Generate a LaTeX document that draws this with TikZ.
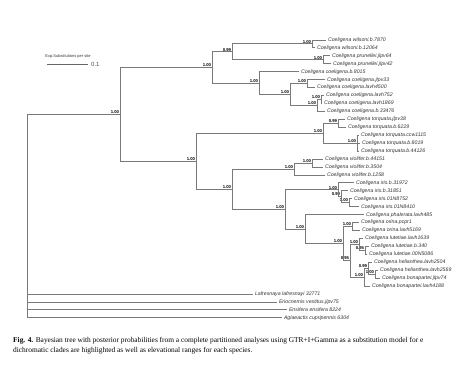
\documentclass[tikz,border=0pt]{standalone}
\usepackage{fontspec}
\setmainfont{Liberation Serif}
\newfontfamily\labfont{Liberation Sans}
\newcommand\mktip[4]{\coordinate (#1) at (#2,#3); \node[tiplab] (#1l) at ([xshift=1.8pt]#1) {#4};}
\newcommand\mkint[4]{\coordinate (#1) at (#2,#3); \node[pp] (#1p) at ([xshift=-0.8pt,yshift=0.6pt]#1) {#4};}
\begin{document}
\begin{tikzpicture}[x=1pt,y=-1pt,
  br/.style={draw=black!52, line width=0.95pt},
  tiplab/.style={anchor=west, inner sep=0pt, font=\labfont\itshape\fontsize{5.2}{6}\selectfont, text=black!80},
  pp/.style={anchor=south east, inner sep=0pt, font=\labfont\bfseries\fontsize{4.2}{4.2}\selectfont},
]
\useasboundingbox (0,0) rectangle (470,367);
% tips
\mktip{t0}{326}{40.00}{Coeligena wilsoni.b.7870}
\mktip{t1}{315}{47.94}{Coeligena wilsoni.b.12064}
\mktip{t2}{330}{55.88}{Coeligena prunellei.jlpv64}
\mktip{t3}{331}{63.82}{Coeligena prunellei.jlpv42}
\mktip{t4}{299}{71.76}{Coeligena coeligena.b.8015}
\mktip{t5}{325}{79.70}{Coeligena coeligena.jlpv33}
\mktip{t6}{315}{87.64}{Coeligena coeligena.lavh4500}
\mktip{t7}{324}{95.58}{Coeligena coeligena.lavh752}
\mktip{t8}{322}{103.52}{Coeligena coeligena.lavh1869}
\mktip{t9}{325}{111.46}{Coeligena coeligena.b.33476}
\mktip{t10}{345}{119.40}{Coeligena torquata.jlpv38}
\mktip{t11}{346}{127.34}{Coeligena torquata.b.6229}
\mktip{t12}{359}{135.28}{Coeligena torquata.ccw1115}
\mktip{t13}{360}{143.22}{Coeligena torquata.b.8019}
\mktip{t14}{359}{151.16}{Coeligena torquata.b.44126}
\mktip{t15}{323}{159.10}{Coeligena violifer.b.44151}
\mktip{t16}{323}{167.04}{Coeligena violifer.b.3504}
\mktip{t17}{325}{174.98}{Coeligena violifer.b.1258}
\mktip{t18}{354}{182.92}{Coeligena iris.b.31972}
\mktip{t19}{348}{190.86}{Coeligena iris.b.31851}
\mktip{t20}{352}{198.80}{Coeligena iris.01N8752}
\mktip{t21}{359}{206.74}{Coeligena iris.01N8410}
\mktip{t22}{364}{214.68}{Coeligena phalerata.lavh485}
\mktip{t23}{359}{222.62}{Coeligena orina.pcpr1}
\mktip{t24}{360}{230.56}{Coeligena orina.lavh5169}
\mktip{t25}{363}{238.50}{Coeligena lutetiae.lavh1639}
\mktip{t26}{369}{246.44}{Coeligena lutetiae.b.340}
\mktip{t27}{367}{254.38}{Coeligena lutetiae.00N5086}
\mktip{t28}{372}{262.32}{Coeligena helianthea.lavh2504}
\mktip{t29}{378}{270.26}{Coeligena helianthea.lavh2569}
\mktip{t30}{380}{278.20}{Coeligena bonapartei.jlpv74}
\mktip{t31}{370}{286.14}{Coeligena bonapartei.lavh4188}
\mktip{t32}{253}{294.08}{Lafresnaya lafresnayi 32771}
\mktip{t33}{277}{302.02}{Eriocnemis vestitus.jlpv75}
\mktip{t34}{287}{309.96}{Ensifera ensifera 8224}
\mktip{t35}{282}{317.90}{Aglaeactis cupripennis 6304}
% internal nodes
\coordinate (root) at (27,216.16);
\mkint{n120}{120}{114.41}{1.00}
\mkint{n212}{212}{67.54}{1.00}
\mkint{n099}{232}{51.91}{0.99}
\mkint{nW}{312}{43.97}{1.00}
\mkint{nP}{323}{59.85}{1.00}
\mkint{nC}{259}{83.18}{1.00}
\mkint{nC2}{290}{94.59}{1.00}
\mkint{nC3}{307}{83.67}{1.00}
\mkint{nC4}{317}{105.50}{1.00}
\mkint{nC5}{321}{99.55}{1.00}
\mkint{n196}{196}{161.29}{1.00}
\mkint{nT}{323}{133.30}{1.00}
\mkint{nT1}{338}{123.37}{0.99}
\mkint{nT2}{357}{143.22}{1.00}
\mkint{n232}{232}{189.28}{1.00}
\mkint{nV}{294}{169.03}{1.00}
\mkint{nV1}{312}{163.07}{1.00}
\mkint{n285}{285}{209.53}{1.00}
\mkint{nIA}{338}{189.86}{1.00}
\mkint{nIB}{341}{196.80}{0.99}
\mkint{nIC}{349}{202.77}{1.00}
\mkint{n305}{305}{229.20}{1.00}
\mkint{nTT}{343}{243.71}{1.00}
\mkint{nO}{352}{226.59}{1.00}
\mkint{nS}{350}{260.83}{0.95}
\mkint{nL}{359}{244.46}{1.00}
\mkint{nL2}{365}{250.41}{0.95}
\mkint{nH}{364}{277.21}{1.00}
\mkint{nHa}{368}{268.28}{0.99}
\mkint{nHb}{375}{274.23}{1.00}
% branches
\foreach \p/\c in {root/n120,root/t32,root/t33,root/t34,root/t35,
  n120/n212,n120/n196,n212/n099,n212/nC,n099/nW,n099/nP,nW/t0,nW/t1,nP/t2,nP/t3,
  nC/t4,nC/nC2,nC2/nC3,nC2/nC4,nC3/t5,nC3/t6,nC4/nC5,nC4/t9,nC5/t7,nC5/t8,
  n196/nT,n196/n232,nT/nT1,nT/nT2,nT1/t10,nT1/t11,nT2/t12,nT2/t13,nT2/t14,
  n232/nV,n232/n285,nV/nV1,nV/t17,nV1/t15,nV1/t16,
  n285/nIA,n285/n305,nIA/t18,nIA/nIB,nIB/t19,nIB/nIC,nIC/t20,nIC/t21,
  n305/t22,n305/nTT,nTT/nO,nTT/nS,nO/t23,nO/t24,nS/nL,nS/nH,nL/t25,nL/nL2,nL2/t26,nL2/t27,
  nH/nHa,nH/t31,nHa/t28,nHa/nHb,nHb/t29,nHb/t30}
  \draw[br] (\p) |- (\c);
% scale bar
\node[font=\labfont\fontsize{4}{4}\selectfont, inner sep=0pt, text=black!80] (sbt) at (68,56) {Exp.Substitutions per site};
\coordinate (sb1) at (47,64);
\coordinate (sb2) at (88,64);
\draw[black!60, line width=0.8pt] (sb1) -- (sb2);
\node[anchor=west, inner sep=0pt, font=\labfont\fontsize{6}{6}\selectfont, text=black!70] (sbv) at (91,64) {0.1};
% caption
\node[anchor=north west, inner sep=0pt, align=left, font=\fontsize{7.4}{10}\selectfont] (cap) at (13,337.5)
  {\textbf{Fig. 4.} Bayesian tree with posterior probabilities from a complete partitioned analyses using GTR+I+Gamma as a substitution model for e\\
   dichromatic clades are highlighted as well as elevational ranges for each species.};
\end{tikzpicture}
\end{document}
